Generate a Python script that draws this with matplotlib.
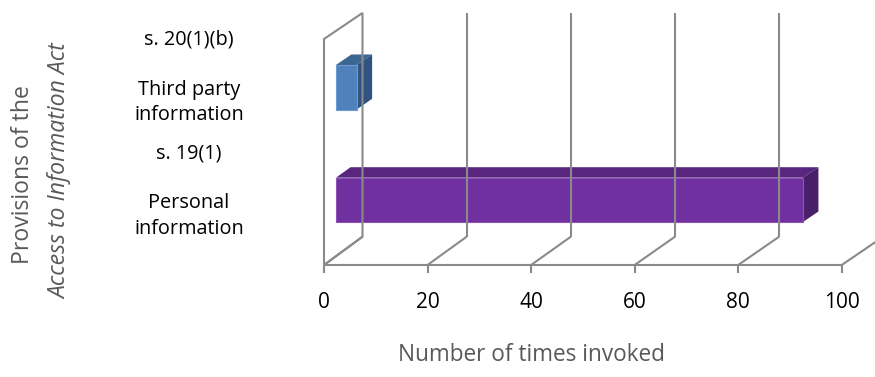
import matplotlib
matplotlib.use("Agg")
import matplotlib.pyplot as plt
from matplotlib.patches import Polygon
from matplotlib.lines import Line2D
from matplotlib.transforms import IdentityTransform

# ---- data ----
categories = ["Personal\ninformation", "Third party\ninformation"]
sections = ["s. 19(1)", "s. 20(1)(b)"]
values = [90, 4]
xticks = [0, 20, 40, 60, 80, 100]
xlabel = "Number of times invoked"
ylabel_line1 = "Provisions of the"
ylabel_line2 = "Access to Information Act"

front_colors = ["#7030A0", "#4F81BD"]
top_colors = ["#58267E", "#3D6592"]
side_colors = ["#4A1F69", "#2F5482"]
edge_colors = ["#8B55B8", "#6E9BD0"]

plt.rcParams['font.family'] = ['Open Sans', 'DejaVu Sans']

W, H = 875, 377
fig = plt.figure(figsize=(W / 100, H / 100), dpi=100)
ax = fig.add_axes([324 / W, 112 / H, 517.7 / W, 226 / H])
ax.set_xlim(0, 100)
ax.set_ylim(-0.5, 1.5)
ax.axis('off')

# oblique projection for depth (0 = front plane, 1 = back wall)
DX, DY = 38.5, 28.3
SX, SY = 1.006, 0.99


def proj(x, y, d):
    X, Y = ax.transData.transform((x, y))
    X0, Y0 = ax.transData.transform((0, -0.5))
    Xb = X0 + DX + (X - X0) * SX
    Yb = Y0 + DY + (Y - Y0) * SY
    return (X * (1 - d) + Xb * d, Y * (1 - d) + Yb * d)


IT = IdentityTransform()
GRID = "#8A8A8A"
LW = 1.5


def line(pts, **kw):
    xs, ys = zip(*pts)
    fig.add_artist(Line2D(xs, ys, transform=IT, color=GRID, lw=LW,
                          solid_capstyle='butt', solid_joinstyle='miter',
                          clip_on=False, **kw))


ymin, ymax = ax.get_ylim()
# left wall
line([proj(0, ymin, 0), proj(0, ymax, 0), proj(0, ymax, 1), proj(0, ymin, 1), proj(0, ymin, 0)])
# floor: front axis + diagonals
line([proj(0, ymin, 0), proj(100, ymin, 0)])
for t in xticks:
    line([proj(t, ymin, 0), proj(t, ymin, 1)])
    if t > 0:
        line([proj(t, ymin, 1), proj(t, ymax, 1)])
    X, Y = proj(t, ymin, 0)
    line([(X, Y), (X, Y - 8)])
    fig.text(X, Y - 43.5, str(t), transform=IT, ha='center', va='baseline',
             fontsize=15, color='black')

# bars
BAR_H = 0.395
depths = [(0.31, 0.69), (0.31, 0.71)]
for i, v in enumerate(values):
    y0, y1 = i - BAR_H / 2, i + BAR_H / 2
    d0, d1 = depths[i]
    top = [proj(0, y1, d0), proj(v, y1, d0), proj(v, y1, d1), proj(0, y1, d1)]
    side = [proj(v, y0, d0), proj(v, y1, d0), proj(v, y1, d1), proj(v, y0, d1)]
    front = [proj(0, y0, d0), proj(v, y0, d0), proj(v, y1, d0), proj(0, y1, d0)]
    fig.add_artist(Polygon(top, closed=True, transform=IT, facecolor=top_colors[i],
                           edgecolor='none', clip_on=False))
    fig.add_artist(Polygon(side, closed=True, transform=IT, facecolor=side_colors[i],
                           edgecolor='none', clip_on=False))
    fig.add_artist(Polygon(front, closed=True, transform=IT, facecolor=front_colors[i],
                           edgecolor=edge_colors[i], lw=0.8, clip_on=False))

# category labels
LX = 189
for i, (c, s) in enumerate(zip(categories, sections)):
    X, Y = ax.transData.transform((0, i))
    lines_ = c.split("\n")
    for k, txt in enumerate(lines_):
        fig.text(LX, Y + 1 - 26 * k, txt, transform=IT, ha='center', va='baseline',
                 fontsize=14.3, color='black')
    fig.text(LX, Y + 50.5, s, transform=IT, ha='center', va='baseline',
             fontsize=14.3, color='black')

# axis titles
fig.text(532, H - 361, xlabel, transform=IT, ha='center', va='baseline',
         fontsize=16.3, color='#595959')
fig.text(29.5, H - 175, ylabel_line1, transform=IT, ha='center', va='baseline',
         fontsize=16.6, color='#595959', rotation=90, rotation_mode='anchor')
fig.text(66.5, H - 171.5, ylabel_line2, transform=IT, ha='center', va='baseline',
         fontsize=16.6, color='#595959', rotation=90, rotation_mode='anchor',
         style='italic')

fig.savefig("out.png", dpi=100)
